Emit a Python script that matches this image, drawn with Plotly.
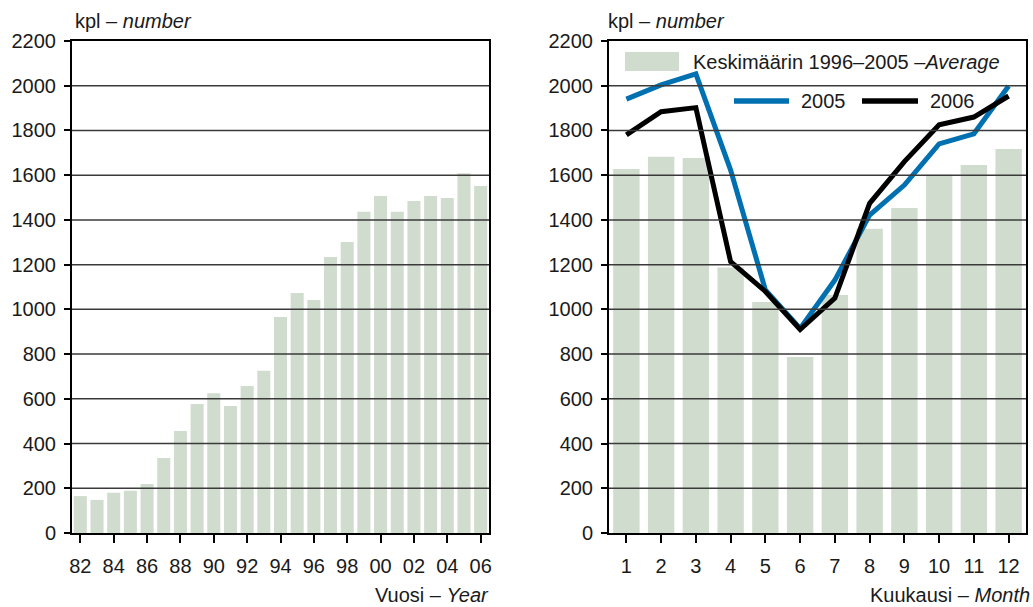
import plotly.graph_objects as go
from plotly.subplots import make_subplots

# ---- data ----
years = ["82", "83", "84", "85", "86", "87", "88", "89", "90", "91", "92", "93", "94",
         "95", "96", "97", "98", "99", "00", "01", "02", "03", "04", "05", "06"]
year_values = [165, 148, 180, 189, 219, 335, 456, 577, 625, 568, 657, 725, 966,
               1073, 1042, 1234, 1301, 1436, 1507, 1436, 1485, 1507, 1498, 1609, 1552]
year_ticks = ["82", "84", "86", "88", "90", "92", "94", "96", "98", "00", "02", "04", "06"]

months = [str(m) for m in range(1, 13)]
avg_1996_2005 = [1628, 1682, 1677, 1187, 1033, 787, 1064, 1360, 1453, 1602, 1646, 1717]
val_2005 = [1940, 2004, 2053, 1623, 1087, 915, 1131, 1422, 1556, 1740, 1785, 1999]
val_2006 = [1780, 1884, 1902, 1213, 1080, 910, 1050, 1474, 1661, 1825, 1860, 1954]

y_ticks = list(range(0, 2201, 200))

W, H = 1033, 607
FONT = "Liberation Sans, Arial, sans-serif"
BAR_COLOR = "#d0dccd"
BLUE = "#0070b0"
TXT = "#1a1a1a"
FS = 20

def px(x):
    return x / W

def py(y):
    return 1 - y / H

fig = make_subplots(rows=1, cols=2)

fig.add_trace(go.Bar(x=years, y=year_values, marker_color=BAR_COLOR,
                     marker_line_width=0, width=0.78, showlegend=False), row=1, col=1)
fig.add_trace(go.Bar(x=months, y=avg_1996_2005, marker_color=BAR_COLOR,
                     marker_line_width=0, width=0.76,
                     name="Keskimäärin 1996–2005 –Average",
                     showlegend=False), row=1, col=2)
fig.add_trace(go.Scatter(x=months, y=val_2005, mode="lines", name="2005",
                         line=dict(color=BLUE, width=5), showlegend=False), row=1, col=2)
fig.add_trace(go.Scatter(x=months, y=val_2006, mode="lines", name="2006",
                         line=dict(color="black", width=5), showlegend=False), row=1, col=2)

ydom = [py(533), py(41)]
axis_common = dict(showline=True, linecolor="black", linewidth=2, mirror=True,
                   ticks="outside", tickcolor="black", tickwidth=1.5, automargin=False,
                   tickfont=dict(family=FONT, size=FS, color=TXT))

fig.update_xaxes(domain=[px(72), px(489)], row=1, col=1, type="category",
                 tickvals=year_ticks, ticktext=year_ticks, ticklen=8, tickangle=0,
                 ticklabelstandoff=6, showgrid=False, **axis_common)
fig.update_xaxes(domain=[px(609), px(1026)], row=1, col=2, type="category",
                 ticklen=8, tickangle=0, ticklabelstandoff=6, showgrid=False,
                 **axis_common)
for c in (1, 2):
    fig.update_yaxes(domain=ydom, range=[0, 2200], tickvals=y_ticks, ticklen=6,
                     ticklabelstandoff=4, showgrid=False, zeroline=False,
                     row=1, col=c, **axis_common)

# gridlines drawn above bars
shapes = []
for xr, yr in (("x domain", "y"), ("x2 domain", "y2")):
    for t in y_ticks[1:-1]:
        shapes.append(dict(type="line", xref=xr, yref=yr, x0=0, x1=1, y0=t, y1=t,
                           line=dict(color="#3a3a3a", width=1.5), layer="above"))

# legend (manual)
shapes.append(dict(type="rect", xref="paper", yref="paper",
                   x0=px(625), x1=px(679), y0=py(71), y1=py(52),
                   fillcolor=BAR_COLOR, line_width=0))
shapes.append(dict(type="line", xref="paper", yref="paper",
                   x0=px(734), x1=px(789), y0=py(101), y1=py(101),
                   line=dict(color=BLUE, width=5.5)))
shapes.append(dict(type="line", xref="paper", yref="paper",
                   x0=px(862), x1=px(918), y0=py(101), y1=py(101),
                   line=dict(color="black", width=5.5)))

tf = dict(family=FONT, size=FS, color=TXT)
annotations = [
    dict(text="Keskimäärin 1996–2005 –<i>Average</i>", x=px(691), y=py(62)),
    dict(text="2005", x=px(799), y=py(101)),
    dict(text="2006", x=px(928), y=py(101)),
    dict(text="kpl – <i>number</i>", x=px(73), y=py(21)),
    dict(text="kpl – <i>number</i>", x=px(606), y=py(21)),
]
for a in annotations:
    a.update(xref="paper", yref="paper", xanchor="left", yanchor="middle",
             showarrow=False, font=tf)
annotations += [
    dict(text="Vuosi – <i>Year</i>", x=px(491), y=py(595), xanchor="right"),
    dict(text="Kuukausi – <i>Month</i>", x=px(1032), y=py(595), xanchor="right"),
]
for a in annotations[-2:]:
    a.update(xref="paper", yref="paper", yanchor="middle", showarrow=False, font=tf)

fig.update_layout(width=W, height=H, margin=dict(l=0, r=0, t=0, b=0),
                  paper_bgcolor="white", plot_bgcolor="white",
                  shapes=shapes, annotations=annotations,
                  font=dict(family=FONT))

fig.write_html("out.html", config={"displayModeBar": False},
               post_script="document.body.style.margin='0';"
                           "document.body.style.overflow='hidden';")
